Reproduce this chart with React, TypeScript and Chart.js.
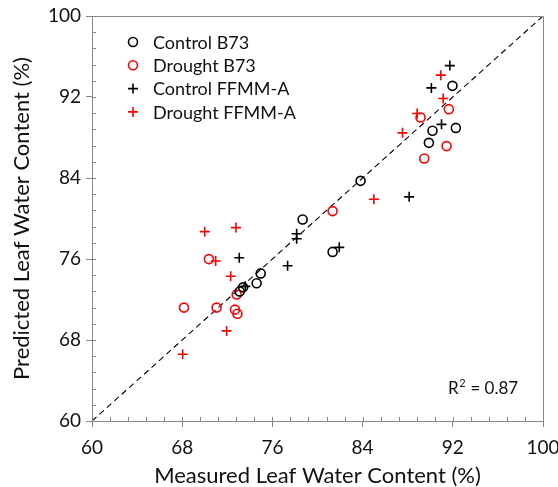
import React, { useEffect, useRef } from "react";
import { Chart, registerables } from "chart.js";

Chart.register(...registerables);

// ---- data ----
const controlB73X = [91.97, 92.27, 90.2, 89.88, 83.82, 78.68, 81.34, 74.96, 74.6, 73.4, 73.1];
const controlB73Y = [93.1, 88.95, 88.66, 87.47, 83.72, 79.9, 76.7, 74.58, 73.6, 73.2, 72.8];

const droughtB73X = [91.65, 89.14, 91.45, 89.47, 81.34, 70.37, 72.83, 68.16, 71.05, 72.68, 72.9];
const droughtB73Y = [90.8, 89.98, 87.15, 85.93, 80.73, 75.99, 72.5, 71.2, 71.2, 71.0, 70.6];

const controlFFMMX = [91.74, 90.1, 91.0, 88.13, 78.15, 78.15, 73.06, 77.35, 81.93, 73.6];
const controlFFMMY = [95.1, 92.9, 89.3, 82.14, 78.5, 78.0, 76.12, 75.33, 77.15, 73.3];

const droughtFFMMX = [90.94, 91.15, 88.84, 87.54, 85.0, 70.0, 72.77, 70.97, 72.3, 71.94, 68.04];
const droughtFFMMY = [94.16, 91.85, 90.37, 88.46, 81.9, 78.7, 79.1, 75.8, 74.3, 68.9, 66.6];

const seriesNames = ["Control B73", "Drought B73", "Control FFMM-A", "Drought FFMM-A"];
const axisMin = 60;
const axisMax = 100;
const majorStep = 8;
const minorStep = 1.6;
const rSquaredText = "0.87";

const FONT = "Lato, 'Noto Sans', sans-serif";
const AXIS_COLOR = "#878787";
const TEXT_COLOR = "#111111";

const toPoints = (xs: number[], ys: number[]) => xs.map((x, i) => ({ x, y: ys[i] }));

const seriesStyles = [
  { color: "#000000", style: "circle" },
  { color: "#ff0000", style: "circle" },
  { color: "#000000", style: "cross" },
  { color: "#ff0000", style: "cross" },
];

const decorPlugin = {
  id: "decor",
  afterDraw(chart: any) {
    const { ctx, chartArea, scales } = chart;
    const xs = scales.x;
    const ys = scales.y;
    ctx.save();
    // top and right frame
    ctx.strokeStyle = AXIS_COLOR;
    ctx.lineWidth = 1;
    ctx.beginPath();
    ctx.moveTo(chartArea.left, chartArea.top + 0.5);
    ctx.lineTo(chartArea.right + 0.5, chartArea.top + 0.5);
    ctx.lineTo(chartArea.right + 0.5, chartArea.bottom);
    ctx.stroke();
    // inside ticks
    ctx.beginPath();
    const n = Math.round((axisMax - axisMin) / minorStep);
    for (let i = 0; i <= n; i++) {
      const v = axisMin + i * minorStep;
      const px = Math.round(xs.getPixelForValue(v)) + 0.5;
      const py = Math.round(ys.getPixelForValue(v)) + 0.5;
      const len = 4;
      ctx.moveTo(px, chartArea.bottom);
      ctx.lineTo(px, chartArea.bottom - len);
      ctx.moveTo(chartArea.left, py);
      ctx.lineTo(chartArea.left + len, py);
    }
    ctx.stroke();

    // legend
    const items = chart.data.datasets.slice(0, 4);
    const lx = chartArea.left + 41;
    const ty = chartArea.top + 26;
    const rowH = 23.3;
    ctx.font = `18px ${FONT}`;
    ctx.textBaseline = "middle";
    ctx.textAlign = "left";
    items.forEach((ds: any, i: number) => {
      const y = ty + i * rowH;
      ctx.strokeStyle = ds.borderColor;
      ctx.lineWidth = 1.6;
      ctx.beginPath();
      if (ds.pointStyle === "circle") {
        ctx.arc(lx, y, 4.5, 0, Math.PI * 2);
      } else {
        ctx.moveTo(lx - 5, y);
        ctx.lineTo(lx + 5, y);
        ctx.moveTo(lx, y - 5);
        ctx.lineTo(lx, y + 5);
      }
      ctx.stroke();
      ctx.fillStyle = TEXT_COLOR;
      ctx.fillText(ds.label, lx + 20, y + 1);
    });

    // R^2 annotation
    const rx = chartArea.left + 356;
    const ry = chartArea.top + 373;
    ctx.fillStyle = TEXT_COLOR;
    ctx.font = `17px ${FONT}`;
    ctx.fillText("R", rx, ry);
    const wR = ctx.measureText("R").width;
    ctx.font = `11px ${FONT}`;
    ctx.fillText("2", rx + wR + 0.5, ry - 6);
    const w2 = ctx.measureText("2").width;
    ctx.font = `17px ${FONT}`;
    ctx.fillText(" = " + rSquaredText, rx + wR + w2 + 1, ry);
    ctx.restore();
  },
};

export default function App() {
  const ref = useRef<HTMLCanvasElement | null>(null);
  useEffect(() => {
    document.body.style.margin = "0";
    const canvas = ref.current;
    if (!canvas) return;
    const datasets: any[] = [
      [controlB73X, controlB73Y],
      [droughtB73X, droughtB73Y],
      [controlFFMMX, controlFFMMY],
      [droughtFFMMX, droughtFFMMY],
    ].map(([xs, ys], i) => ({
      label: seriesNames[i],
      data: toPoints(xs, ys),
      pointStyle: seriesStyles[i].style,
      borderColor: seriesStyles[i].color,
      backgroundColor: "rgba(0,0,0,0)",
      pointRadius: seriesStyles[i].style === "circle" ? 4.5 : 5,
      pointBorderWidth: 1.6,
      pointHoverRadius: 5,
      showLine: false,
    }));
    datasets.push({
      type: "line",
      label: "1:1",
      data: [
        { x: axisMin, y: axisMin },
        { x: axisMax, y: axisMax },
      ],
      borderColor: "#000000",
      borderWidth: 1.1,
      borderDash: [6, 4],
      pointRadius: 0,
      showLine: true,
      fill: false,
    });
    const tickFont = { family: FONT, size: 19 };
    const titleFont = { family: FONT, size: 22, lineHeight: 1 };
    const chart = new Chart(canvas, {
      type: "scatter",
      data: { datasets },
      options: {
        animation: false,
        responsive: false,
        layout: { padding: { left: 0, top: 16, right: 15, bottom: 0 } },
        plugins: { legend: { display: false }, tooltip: { enabled: false } },
        scales: {
          x: {
            type: "linear",
            min: axisMin,
            max: axisMax,
            ticks: { stepSize: majorStep, font: tickFont, color: TEXT_COLOR, padding: 9, maxRotation: 0 },
            grid: { display: true, drawOnChartArea: false, drawTicks: true, tickLength: 6, color: AXIS_COLOR },
            border: { display: true, color: AXIS_COLOR, width: 1 },
            title: {
              display: true,
              text: "Measured Leaf Water Content (%)",
              font: titleFont,
              color: TEXT_COLOR,
              padding: { top: 0, bottom: 0 },
            },
            afterFit: (s: any) => {
              s.height = 66;
              s.paddingLeft = 0;
              s.paddingRight = 0;
            },
          },
          y: {
            type: "linear",
            min: axisMin,
            max: axisMax,
            ticks: { stepSize: majorStep, font: tickFont, color: TEXT_COLOR, padding: 5 },
            grid: { display: true, drawOnChartArea: false, drawTicks: true, tickLength: 6, color: AXIS_COLOR },
            border: { display: true, color: AXIS_COLOR, width: 1 },
            title: {
              display: true,
              text: "Predicted Leaf Water Content (%)",
              font: titleFont,
              color: TEXT_COLOR,
              padding: { top: 11, bottom: 0 },
            },
            afterFit: (s: any) => {
              s.width = 92;
              s.paddingTop = 0;
              s.paddingBottom = 0;
            },
          },
        },
      },
      plugins: [decorPlugin],
    } as any);
    return () => chart.destroy();
  }, []);
  return (
    <div style={{ position: "relative", width: 558, height: 487 }}>
      <canvas ref={ref} width={558} height={487} style={{ display: "block", width: 558, height: 487 }} />
    </div>
  );
}
